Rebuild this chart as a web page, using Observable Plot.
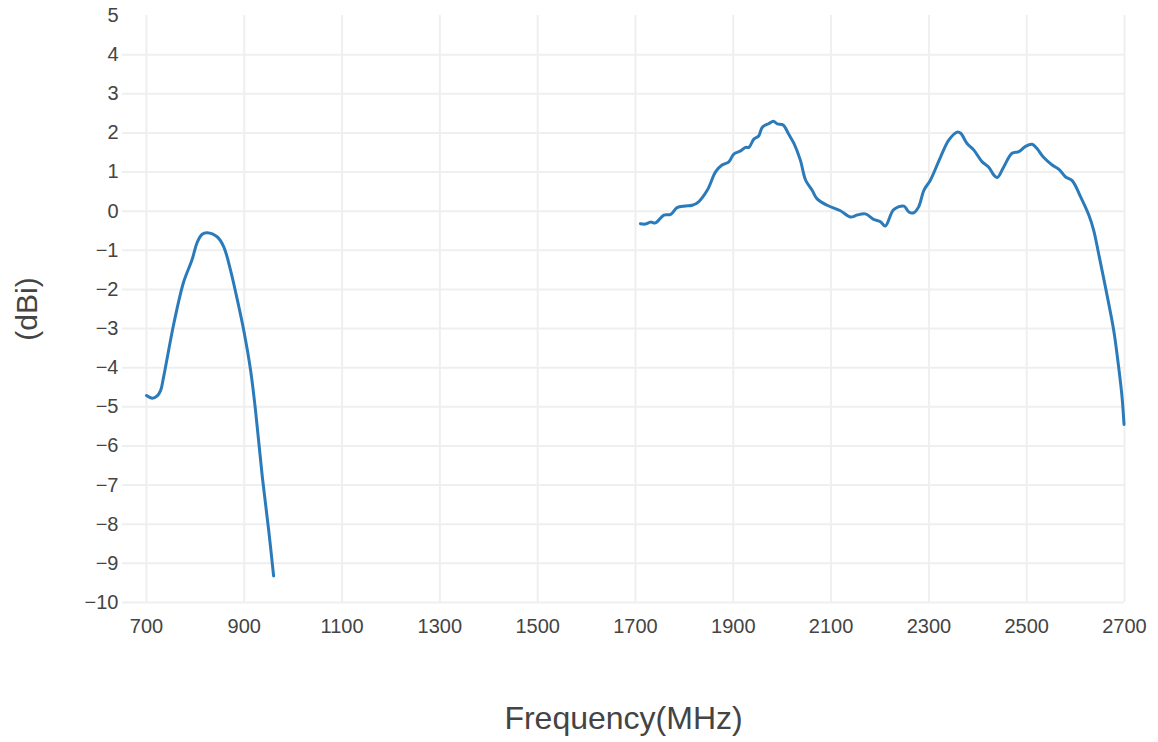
<!DOCTYPE html>
<html>
<head>
<meta charset="utf-8">
<script src="https://cdn.jsdelivr.net/npm/d3@7"></script>
<script src="https://cdn.jsdelivr.net/npm/@observablehq/plot@0.6"></script>
<style>
  html, body { margin: 0; padding: 0; background: #fff; }
</style>
</head>
<body>
<div id="chart"></div>
<script>
// Low band (MHz, dBi)
const freqLow = [700, 712, 722, 729, 735, 756, 776, 793, 804, 814, 824, 845, 858, 872, 889, 899, 913, 923, 937, 950, 960];
const gainLow = [-4.71, -4.78, -4.72, -4.58, -4.24, -2.87, -1.81, -1.25, -0.79, -0.59, -0.55, -0.66, -0.91, -1.51, -2.45, -3.05, -4.07, -5.09, -6.8, -8.16, -9.32];

// High band (MHz, dBi)
const freqHigh = [1710, 1720, 1731, 1741, 1758, 1772, 1785, 1802, 1816, 1829, 1847, 1864, 1877, 1891, 1901, 1915, 1925, 1932, 1942, 1952, 1959, 1973, 1982, 1990, 2002, 2014, 2024, 2037, 2048, 2061, 2071, 2092, 2119, 2140, 2153, 2170, 2187, 2201, 2211, 2228, 2249, 2259, 2269, 2279, 2290, 2303, 2324, 2341, 2358, 2365, 2378, 2392, 2409, 2422, 2433, 2440, 2453, 2470, 2484, 2497, 2511, 2521, 2535, 2552, 2566, 2579, 2593, 2610, 2627, 2637, 2647, 2665, 2678, 2688, 2695, 2699];
const gainHigh = [-0.32, -0.33, -0.28, -0.30, -0.10, -0.08, 0.09, 0.13, 0.15, 0.24, 0.54, 1.01, 1.18, 1.26, 1.46, 1.54, 1.63, 1.63, 1.84, 1.92, 2.14, 2.24, 2.30, 2.23, 2.20, 1.95, 1.73, 1.31, 0.79, 0.54, 0.32, 0.15, 0.01, -0.15, -0.10, -0.07, -0.21, -0.27, -0.38, 0.04, 0.13, -0.02, -0.04, 0.11, 0.54, 0.79, 1.39, 1.82, 2.02, 1.99, 1.73, 1.56, 1.26, 1.13, 0.92, 0.86, 1.13, 1.48, 1.52, 1.65, 1.71, 1.60, 1.37, 1.18, 1.07, 0.88, 0.78, 0.37, -0.10, -0.49, -1.08, -2.19, -3.05, -3.98, -4.75, -5.45];

const xTicks = [700, 900, 1100, 1300, 1500, 1700, 1900, 2100, 2300, 2500, 2700];
const yTicks = [-10, -9, -8, -7, -6, -5, -4, -3, -2, -1, 0, 1, 2, 3, 4, 5];
const yGrid = [-10, -9, -8, -7, -6, -5, -4, -3, -2, -1, 0, 1, 2, 3, 4];

const low = freqLow.map((f, i) => ({f, g: gainLow[i]}));
const high = freqHigh.map((f, i) => ({f, g: gainHigh[i]}));

const lineColor = "#2b7bba";
const gridColor = "#efefef";
const fmt = d => String(d).replace("-", "\u2212");

const chart = Plot.plot({
  width: 1158,
  height: 742,
  marginLeft: 122,
  marginRight: 34,
  marginTop: 15,
  marginBottom: 140,
  style: {fontFamily: "'Liberation Sans', Arial, sans-serif", color: "#444", background: "#fff"},
  x: {domain: [651, 2700]},
  y: {domain: [-10, 5]},
  marks: [
    Plot.ruleY(yGrid, {stroke: gridColor, strokeWidth: 2}),
    Plot.ruleX(xTicks, {stroke: gridColor, strokeWidth: 2}),
    Plot.axisY({ticks: yTicks, tickSize: 0, tickPadding: 4, fontSize: 20, label: null, tickFormat: fmt}),
    Plot.axisX({ticks: xTicks, tickSize: 0, tickPadding: 16, fontSize: 20, label: null, tickFormat: d => String(d)}),
    Plot.line(low, {x: "f", y: "g", stroke: lineColor, strokeWidth: 3, curve: "catmull-rom"}),
    Plot.line(high, {x: "f", y: "g", stroke: lineColor, strokeWidth: 3, curve: "catmull-rom"}),
    Plot.text(["(dBi)"], {frameAnchor: "left", textAnchor: "middle", lineAnchor: "middle", dx: -95, rotate: -90, fontSize: 30, fill: "#444"}),
    Plot.text(["Frequency(MHz)"], {frameAnchor: "bottom", textAnchor: "middle", lineAnchor: "middle", dy: 116, fontSize: 32, fill: "#444"})
  ]
});
document.getElementById("chart").appendChild(chart);
</script>
</body>
</html>
